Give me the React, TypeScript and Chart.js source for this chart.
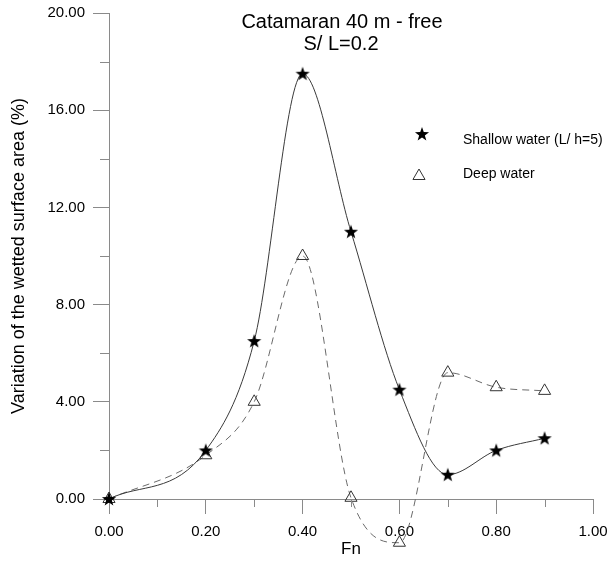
import React, { useEffect, useRef } from 'react';
import { Chart, registerables } from 'chart.js';

Chart.register(...registerables);

// ---- data ----
const fnValues = [0, 0.2, 0.3, 0.4, 0.5, 0.6, 0.7, 0.8, 0.9];
const shallowValues = [0, 2.0, 6.5, 17.5, 11.0, 4.5, 1.0, 2.0, 2.5];
const deepValues = [0, 1.8, 4.0, 10.0, 0.05, -1.8, 5.2, 4.6, 4.45];
const seriesNames = ['Shallow water (L/ h=5)', 'Deep water'];
const titleLines = ['Catamaran 40 m - free', 'S/ L=0.2'];
const xAxisTitle = 'Fn';
const yAxisTitle = 'Variation of the wetted surface area (%)';
const xRange = [0, 1];
const yRange = [0, 20];
const xMajorStep = 0.2;
const yMajorStep = 4;

const FONT = '"Liberation Sans", Arial, Helvetica, sans-serif';
const AXIS = '#8a8a8a';

function makeStar(size: number, outer: number, inner: number): HTMLCanvasElement {
  const c = document.createElement('canvas');
  c.width = size;
  c.height = size;
  const g = c.getContext('2d')!;
  g.fillStyle = '#000';
  g.beginPath();
  for (let i = 0; i < 10; i++) {
    const r = i % 2 === 0 ? outer : inner;
    const a = -Math.PI / 2 + (i * Math.PI) / 5;
    const px = size / 2 + r * Math.cos(a);
    const py = size / 2 + 0.5 + r * Math.sin(a);
    if (i === 0) g.moveTo(px, py);
    else g.lineTo(px, py);
  }
  g.closePath();
  g.fill();
  return c;
}

function drawTriangle(ctx: CanvasRenderingContext2D, x: number, y: number, r: number) {
  ctx.beginPath();
  let rad = 0;
  ctx.moveTo(x + Math.sin(rad) * r, y - Math.cos(rad) * r);
  rad += (2 * Math.PI) / 3;
  ctx.lineTo(x + Math.sin(rad) * r, y - Math.cos(rad) * r);
  rad += (2 * Math.PI) / 3;
  ctx.lineTo(x + Math.sin(rad) * r, y - Math.cos(rad) * r);
  ctx.closePath();
  ctx.stroke();
}

export default function App() {
  const ref = useRef<HTMLCanvasElement | null>(null);

  useEffect(() => {
    document.body.style.margin = '0';
    const canvas = ref.current;
    if (!canvas) return;
    const star = makeStar(16, 7.4, 3.0);

    const decor = {
      id: 'decor',
      afterDatasetsDraw(chart: any) {
        // points lying outside the chart area (e.g. below the x axis) are skipped by Chart.js; draw them here
        const area = chart.chartArea;
        const big = { left: -1e4, top: -1e4, right: 1e4, bottom: 1e4 };
        for (let d = chart.data.datasets.length - 1; d >= 0; d--) {
          const meta = chart.getDatasetMeta(d);
          meta.data.forEach((el: any) => {
            const outside = el.x < area.left || el.x > area.right || el.y < area.top || el.y > area.bottom;
            if (outside) el.draw(chart.ctx, big);
          });
        }
      },
      afterDraw(chart: any) {
        const ctx: CanvasRenderingContext2D = chart.ctx;
        const xs = chart.scales.x;
        const ys = chart.scales.y;
        const area = chart.chartArea;
        ctx.save();
        // minor ticks
        ctx.strokeStyle = AXIS;
        ctx.lineWidth = 1;
        for (let v = xRange[0] + xMajorStep / 2; v < xRange[1]; v += xMajorStep) {
          const px = Math.round(xs.getPixelForValue(v)) + 0.5;
          ctx.beginPath();
          ctx.moveTo(px, area.bottom);
          ctx.lineTo(px, area.bottom + 8);
          ctx.stroke();
        }
        for (let v = yRange[0] + yMajorStep / 2; v < yRange[1]; v += yMajorStep) {
          const py = Math.round(ys.getPixelForValue(v)) + 0.5;
          ctx.beginPath();
          ctx.moveTo(area.left, py);
          ctx.lineTo(area.left - 9, py);
          ctx.stroke();
        }
        // title
        ctx.fillStyle = '#000';
        ctx.font = `20px ${FONT}`;
        ctx.textAlign = 'center';
        ctx.textBaseline = 'middle';
        ctx.fillText(titleLines[0], 342, 22);
        ctx.fillText(titleLines[1], 341, 44);
        // legend
        ctx.drawImage(star, 422 - star.width / 2, 134 - star.height / 2);
        ctx.strokeStyle = '#333';
        drawTriangle(ctx, 419, 176, 7);
        ctx.font = `14px ${FONT}`;
        ctx.textAlign = 'left';
        ctx.fillText(seriesNames[0], 463, 140);
        ctx.fillText(seriesNames[1], 463, 174);
        ctx.restore();
      },
    };

    const chart = new Chart(canvas, {
      type: 'line',
      data: {
        datasets: [
          {
            label: seriesNames[0],
            data: fnValues.map((x, i) => ({ x, y: shallowValues[i] })),
            borderColor: '#3a3a3a',
            borderWidth: 1,
            cubicInterpolationMode: 'monotone',
            pointStyle: star as any,
            pointRadius: 8,
            clip: false as any,
          },
          {
            label: seriesNames[1],
            data: fnValues.map((x, i) => ({ x, y: deepValues[i] })),
            borderColor: '#6a6a6a',
            borderWidth: 1,
            borderDash: [7, 5],
            cubicInterpolationMode: 'monotone',
            pointStyle: 'triangle',
            pointRadius: 7,
            pointBorderWidth: 1,
            pointBorderColor: '#333',
            pointBackgroundColor: 'rgba(0,0,0,0)',
            clip: false as any,
          },
        ],
      },
      options: {
        animation: false,
        responsive: false,
        devicePixelRatio: 1,
        layout: { padding: { left: 0, top: 13, right: 16, bottom: 0 } },
        plugins: {
          legend: { display: false },
          tooltip: { enabled: false },
          title: { display: false },
        },
        scales: {
          x: {
            type: 'linear',
            min: xRange[0],
            max: xRange[1],
            afterFit: (s: any) => {
              s.height = 64;
              s.paddingLeft = 0;
              s.paddingRight = 0;
            },
            border: { display: true, color: AXIS, width: 1 },
            grid: { drawOnChartArea: false, drawTicks: true, tickLength: 15, tickColor: AXIS },
            ticks: {
              stepSize: xMajorStep,
              color: '#000',
              font: { family: FONT, size: 15 },
              padding: 9,
              maxRotation: 0,
              callback: (v: any) => Number(v).toFixed(2),
            },
            title: {
              display: true,
              text: xAxisTitle,
              color: '#000',
              font: { family: FONT, size: 17 },
              padding: { top: 0, bottom: 3 },
            },
          },
          y: {
            type: 'linear',
            min: yRange[0],
            max: yRange[1],
            afterFit: (s: any) => {
              s.width = 109;
              s.paddingTop = 0;
              s.paddingBottom = 0;
            },
            border: { display: true, color: AXIS, width: 1 },
            grid: { drawOnChartArea: false, drawTicks: true, tickLength: 16, tickColor: AXIS },
            ticks: {
              stepSize: yMajorStep,
              color: '#000',
              font: { family: FONT, size: 15 },
              padding: 8,
              callback: (v: any) => Number(v).toFixed(2),
            },
            title: {
              display: true,
              text: yAxisTitle,
              color: '#000',
              font: { family: FONT, size: 18 },
              padding: { top: 8, bottom: 0 },
            },
          },
        },
      },
      plugins: [decor],
    });

    return () => chart.destroy();
  }, []);

  return (
    <div style={{ width: 609, height: 563 }}>
      <canvas ref={ref} width={609} height={563} style={{ display: 'block' }} />
    </div>
  );
}
